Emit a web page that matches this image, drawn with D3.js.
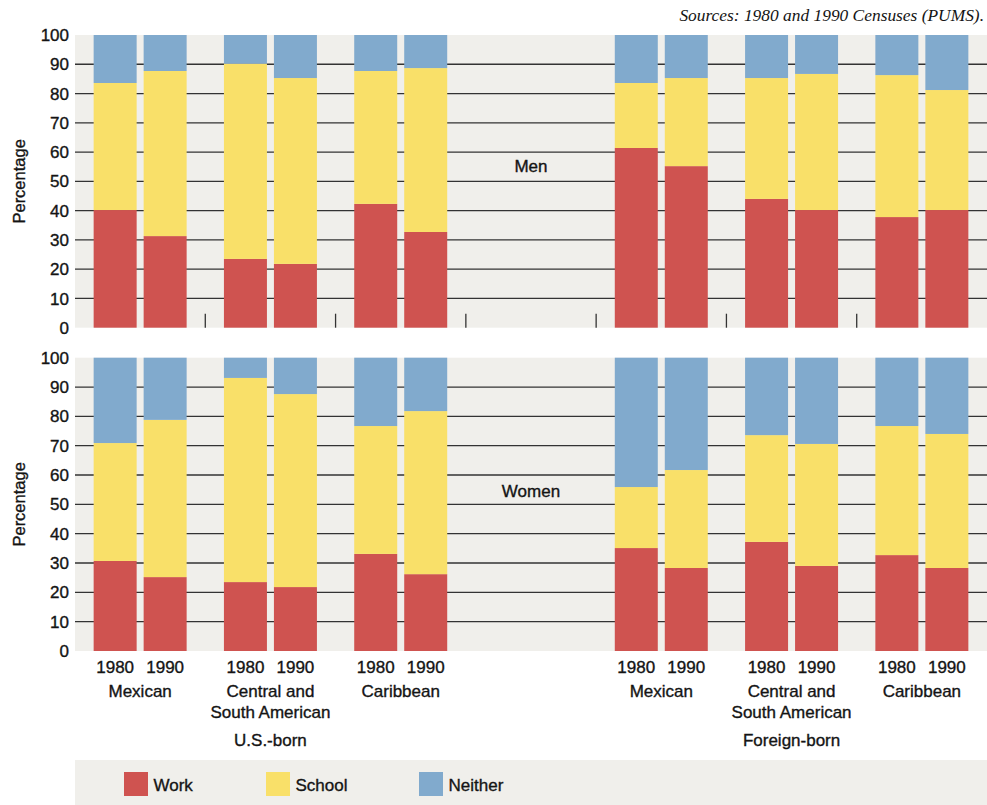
<!DOCTYPE html>
<html>
<head>
<meta charset="utf-8">
<script src="https://cdn.jsdelivr.net/npm/d3@7"></script>
<style>
  html, body { margin: 0; padding: 0; background: #fff; }
  svg { display: block; }
  text { font-family: "Liberation Sans", Arial, sans-serif; fill: #141414; }
  text.sans { stroke: #141414; stroke-width: 0.35px; }
</style>
</head>
<body>
<svg id="chart" width="987" height="805"></svg>
<script>
// ---- Data ----
const groups = ["Mexican", "Central and\nSouth American", "Caribbean"];
const births = ["U.S.-born", "Foreign-born"];
const years = ["1980", "1990"];
const seriesKeys = ["Work", "School", "Neither"];
const yTicks = [0, 10, 20, 30, 40, 50, 60, 70, 80, 90, 100];

// order: US Mex 1980, 1990, US CSA 1980, 1990, US Carib 1980, 1990, FB Mex..., FB CSA..., FB Carib...
const menWork    = [40.2, 31.3, 23.5, 21.8, 42.3, 32.7, 61.4, 55.2, 44.0, 40.2, 37.8, 40.2];
const menSchool  = [43.4, 56.4, 66.7, 63.5, 45.4, 56.0, 22.2, 30.1, 41.3, 46.5, 48.5, 41.0];
const menNeither = [16.4, 12.3,  9.8, 14.7, 12.3, 11.3, 16.4, 14.7, 14.7, 13.3, 13.7, 18.8];

const womenWork    = [30.7, 25.2, 23.5, 21.8, 33.1, 26.2, 35.1, 28.3, 37.2, 29.0, 32.7, 28.3];
const womenSchool  = [40.2, 53.6, 69.6, 65.8, 43.6, 55.6, 20.8, 33.4, 36.4, 41.6, 44.0, 45.7];
const womenNeither = [29.1, 21.2,  6.9, 12.4, 23.3, 18.2, 44.1, 38.3, 26.4, 29.4, 23.3, 26.0];

const colors = { Work: "#CF5350", School: "#F9E069", Neither: "#81AACD" };

// ---- Layout ----
const svg = d3.select("#chart");
const left = 75, right = 987;
// 7 slots: 3 US groups, an empty slot, 3 foreign-born groups
const slots = ["US|0", "US|1", "US|2", "gap", "FB|0", "FB|1", "FB|2"];
const x0 = d3.scaleBand().domain(slots).range([left, right]).padding(0);
const x1 = d3.scaleBand().domain(years).range([0, x0.bandwidth()]).paddingInner(0.14).paddingOuter(0.373);

function buildRows(work, school, neither) {
  const rows = [];
  let i = 0;
  ["US", "FB"].forEach(b => {
    for (let g = 0; g < 3; g++) {
      years.forEach(yr => {
        rows.push({ slot: b + "|" + g, year: yr, Work: work[i], School: school[i], Neither: neither[i] });
        i++;
      });
    }
  });
  return rows;
}

const panels = [
  { label: "Men", top: 35, bottom: 327.7, rows: buildRows(menWork, menSchool, menNeither), ticks: true, labelVal: 53.3 },
  { label: "Women", top: 357.7, bottom: 651, rows: buildRows(womenWork, womenSchool, womenNeither), ticks: false, labelVal: 52.6 }
];

const stack = d3.stack().keys(seriesKeys);

panels.forEach(p => {
  const y = d3.scaleLinear().domain([0, 100]).range([p.bottom, p.top]);
  const g = svg.append("g");

  // background
  g.append("rect").attr("x", left).attr("y", p.top).attr("width", right - left).attr("height", p.bottom - p.top).attr("fill", "#F0EFEB");

  // gridlines
  g.selectAll("line.grid").data(yTicks.filter(t => t > 0 && t < 100)).join("line")
    .attr("x1", left).attr("x2", right)
    .attr("y1", d => y(d)).attr("y2", d => y(d))
    .attr("stroke", "#333").attr("stroke-width", 1.3);

  // y tick labels
  g.selectAll("text.ytick").data(yTicks).join("text").attr("class", "sans")
    .attr("x", 69).attr("y", d => y(d)).attr("dy", "0.36em")
    .attr("text-anchor", "end").attr("font-size", 17).text(d => d);

  // y axis title
  g.append("text").attr("class", "sans")
    .attr("transform", `translate(25,${(p.top + p.bottom) / 2}) rotate(-90)`)
    .attr("text-anchor", "middle").attr("font-size", 16.5).text("Percentage");

  // stacked bars
  const stacked = stack(p.rows);
  stacked.forEach(layer => {
    g.append("g").attr("fill", colors[layer.key])
      .selectAll("rect").data(layer).join("rect")
      .attr("x", d => x0(d.data.slot) + x1(d.data.year))
      .attr("width", x1.bandwidth())
      .attr("y", d => y(d[1]))
      .attr("height", d => y(d[0]) - y(d[1]));
  });

  // panel label in the empty slot
  g.append("text").attr("class", "sans")
    .attr("x", x0("gap") + x0.bandwidth() / 2).attr("y", y(p.labelVal))
    .attr("text-anchor", "middle").attr("font-size", 17).text(p.label);

  // small separator ticks at bottom
  if (p.ticks) {
    g.selectAll("line.sep").data(slots.slice(1)).join("line")
      .attr("x1", d => x0(d)).attr("x2", d => x0(d))
      .attr("y1", p.bottom - 14).attr("y2", p.bottom)
      .attr("stroke", "#333").attr("stroke-width", 1.3);
  }
});

// ---- X labels under the bottom panel ----
const xl = svg.append("g");
const labelSlots = slots.filter(s => s !== "gap");
labelSlots.forEach(s => {
  years.forEach(yr => {
    xl.append("text").attr("class", "sans").attr("x", x0(s) + x1(yr) + x1.bandwidth() / 2).attr("y", 672.5)
      .attr("text-anchor", "middle").attr("font-size", 17).text(yr);
  });
  const gi = +s.split("|")[1];
  const lines = groups[gi].split("\n");
  lines.forEach((ln, k) => {
    xl.append("text").attr("class", "sans").attr("x", x0(s) + x0.bandwidth() / 2).attr("y", 697 + k * 20.5)
      .attr("text-anchor", "middle").attr("font-size", 17).text(ln);
  });
});
[["US|1", births[0]], ["FB|1", births[1]]].forEach(([s, t]) => {
  xl.append("text").attr("class", "sans").attr("x", x0(s) + x0.bandwidth() / 2).attr("y", 745.5)
    .attr("text-anchor", "middle").attr("font-size", 17).text(t);
});

// ---- Source ----
svg.append("text").attr("x", 984).attr("y", 20.5).attr("text-anchor", "end")
  .style("font-family", "'Liberation Serif', 'Times New Roman', serif").style("font-style", "italic")
  .attr("font-size", 17.4).text("Sources: 1980 and 1990 Censuses (PUMS).");

// ---- Legend ----
const lg = svg.append("g");
lg.append("rect").attr("x", left).attr("y", 760).attr("width", right - left).attr("height", 45).attr("fill", "#F0EFEB");
const legendX = d3.scaleOrdinal().domain(seriesKeys).range([124, 266, 419]);
seriesKeys.forEach(k => {
  lg.append("rect").attr("x", legendX(k)).attr("y", 772).attr("width", 24).attr("height", 24).attr("fill", colors[k]);
  lg.append("text").attr("class", "sans").attr("x", legendX(k) + 29.5).attr("y", 790.5).attr("font-size", 17).text(k);
});
</script>
</body>
</html>
